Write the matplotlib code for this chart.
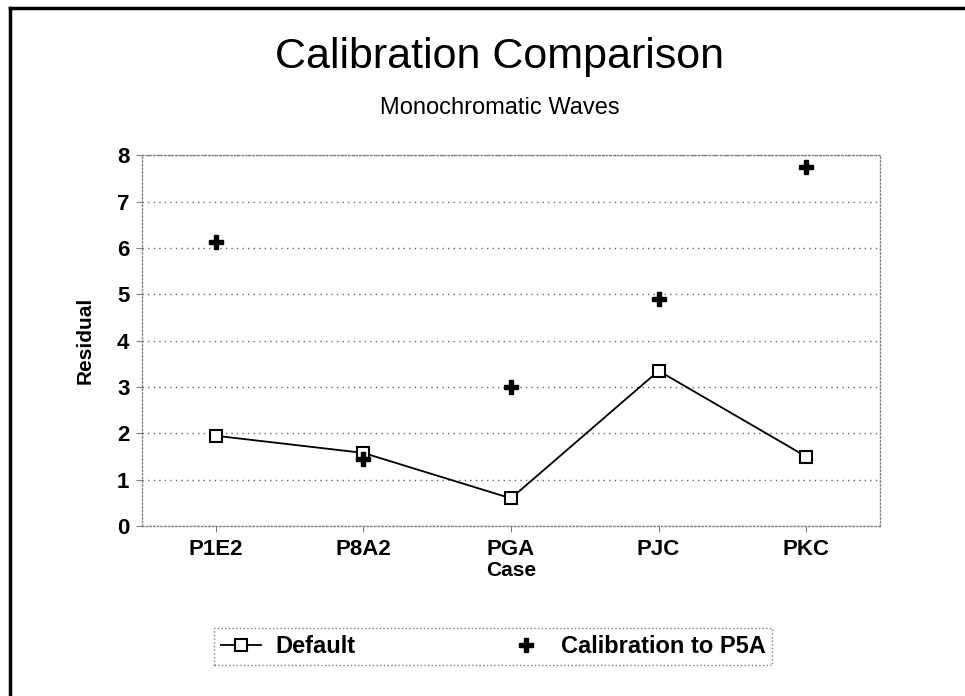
import matplotlib
matplotlib.use("Agg")
import matplotlib.pyplot as plt
from matplotlib.lines import Line2D

plt.rcParams['font.family'] = ['Liberation Sans', 'DejaVu Sans']

cases = ["P1E2", "P8A2", "PGA", "PJC", "PKC"]
default = [1.95, 1.58, 0.6, 3.35, 1.5]
calib_p5a = [6.12, 1.45, 3.0, 4.9, 7.75]
yticks = [0, 1, 2, 3, 4, 5, 6, 7, 8]

fig = plt.figure(figsize=(9.65, 6.96), dpi=100)
ax = fig.add_axes([0.147, 0.244, 0.765, 0.533])

x = list(range(len(cases)))
ax.plot(x, default, color='black', lw=1.3, marker='s', ms=9,
        mfc='white', mec='black', mew=1.5, label='Default')
ax.plot(x, calib_p5a, ls='none', marker='P', ms=10, color='black',
        label='Calibration to P5A')

ax.set_xlim(-0.5, 4.5)
ax.set_ylim(0, 8)
ax.set_xticks(x)
ax.set_xticklabels(cases, fontsize=16, fontweight='bold')
ax.set_yticks(yticks)
ax.set_yticklabels([str(v) for v in yticks], fontsize=16, fontweight='bold')
ax.tick_params(axis='both', length=4, color='gray', width=0.8, pad=5)
ax.grid(axis='y', ls=(0, (1, 3)), color='dimgray', lw=1)
for s in ax.spines.values():
    s.set_linestyle(':')
    s.set_color('gray')
    s.set_linewidth(1)

ax.set_xlabel('Case', fontsize=15, fontweight='bold', labelpad=1)
ax.set_ylabel('Residual', fontsize=15, fontweight='bold', labelpad=16)

fig.text(0.518, 0.918, 'Calibration Comparison', ha='center', va='center', fontsize=31)
fig.text(0.518, 0.845, 'Monochromatic Waves', ha='center', va='center', fontsize=17)

leg = fig.legend(loc='center', bbox_to_anchor=(0.511, 0.071),
                 ncol=2, fancybox=False, framealpha=1,
                 prop={'size': 17, 'weight': 'bold'}, handlelength=1.7,
                 handletextpad=0.6, borderaxespad=0, borderpad=0.3,
                 columnspacing=6.4)
leg.get_frame().set_linestyle(':')
leg.get_frame().set_edgecolor('gray')
leg.get_frame().set_linewidth(1)

# page border (left and top edges)
fig.add_artist(Line2D([0.010, 0.010], [0.0, 0.989], color='black', lw=2.5, transform=fig.transFigure))
fig.add_artist(Line2D([0.010, 1.0], [0.989, 0.989], color='black', lw=2.5, transform=fig.transFigure))

fig.savefig('out.png', dpi=100)
